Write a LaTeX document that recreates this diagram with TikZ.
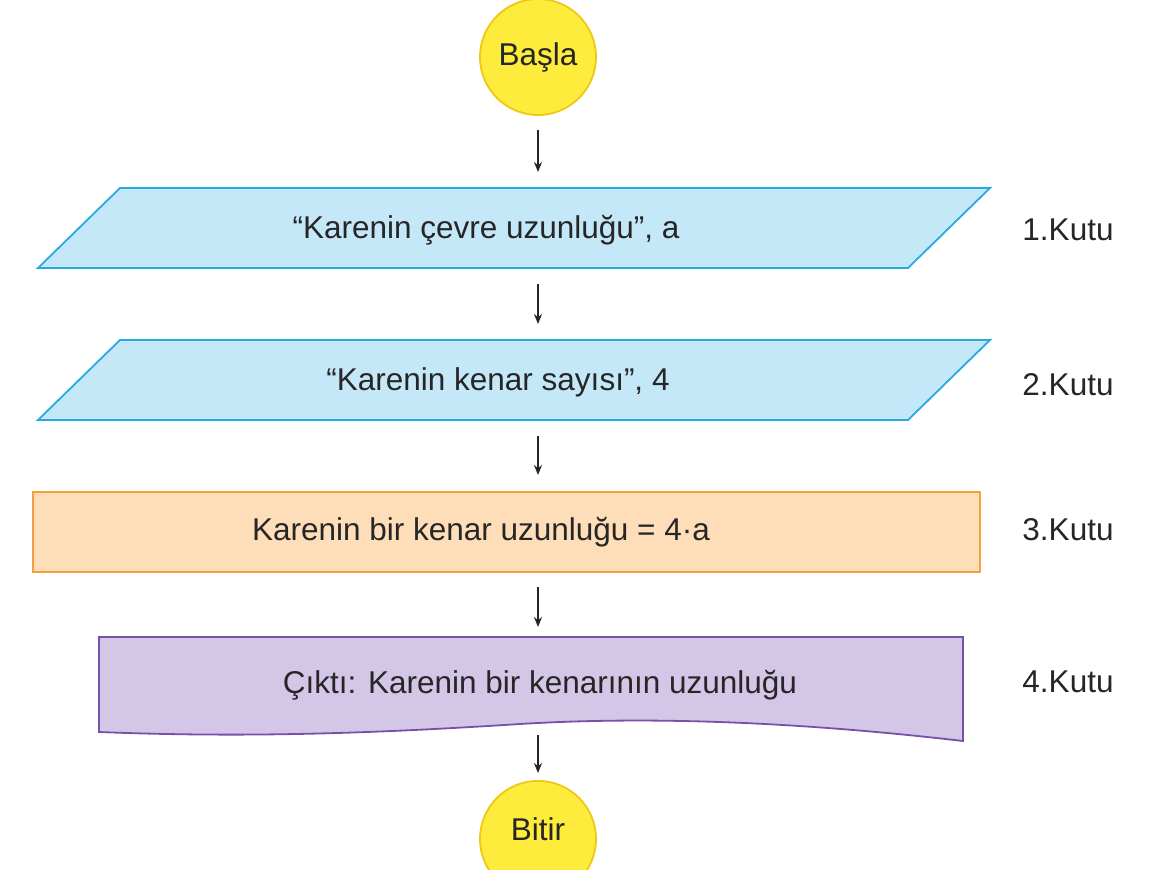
\documentclass[tikz,border=0pt]{standalone}
\usepackage{fontspec}
\setmainfont{Liberation Sans}
\usetikzlibrary{arrows.meta}
\definecolor{yfill}{RGB}{253,236,60}
\definecolor{yline}{RGB}{240,200,20}
\definecolor{bfill}{RGB}{196,232,248}
\definecolor{bline}{RGB}{40,170,225}
\definecolor{ofill}{RGB}{253,222,185}
\definecolor{oline}{RGB}{245,160,60}
\definecolor{pfill}{RGB}{212,198,230}
\definecolor{pline}{RGB}{120,80,170}
\tikzset{
  term/.style={circle,draw=yline,fill=yfill,line width=1.8pt,minimum size=116pt,inner sep=0pt},
  lbl/.style={font=\fontsize{31.5}{34}\selectfont,text=black!85},
  arr/.style={-{Stealth[length=10pt,width=8pt]},line width=1.4pt,black!85},
}
\begin{document}
\begin{tikzpicture}[x=1pt,y=-1pt]
\useasboundingbox (0,0) rectangle (1171,870);
\fill[white] (0,0) rectangle (1171,870);
\node[term,lbl] (start) at (538,57) {\raisebox{-3pt}{Başla}};
\node[term,lbl,anchor=north] (end) at (538,780) {\raisebox{-1pt}{\raisebox{20pt}{Bitir}}};
\filldraw[fill=bfill,draw=bline,line width=1.8pt] (38,268) -- (120,188) -- (990,188) -- (908,268) -- cycle;
\filldraw[fill=bfill,draw=bline,line width=1.8pt] (38,420) -- (120,340) -- (990,340) -- (908,420) -- cycle;
\filldraw[fill=ofill,draw=oline,line width=1.8pt] (33,492) rectangle (980,572);
\filldraw[fill=pfill,draw=pline,line width=1.8pt] (99,637) -- (963,637) -- (963,741)
  .. controls (800,722) and (650,716) .. (520,724) .. controls (380,733) and (250,738) .. (99,732) -- cycle;
\node[lbl] (b1) at (486,230) {“Karenin çevre uzunluğu”, a};
\node[lbl] (b2) at (498,382) {“Karenin kenar sayısı”, 4};
\node[lbl] (b3) at (481,532) {Karenin bir kenar uzunluğu = 4·a};
\node[lbl] (b4) at (540,685) {Çıktı: Karenin bir kenarının uzunluğu};
\node[lbl] (k1) at (1068,230) {1.Kutu};
\node[lbl] (k2) at (1068,385) {2.Kutu};
\node[lbl] (k3) at (1068,530) {3.Kutu};
\node[lbl] (k4) at (1068,682) {4.Kutu};
\coordinate (a1s) at (538,130); \coordinate (a1e) at (538,172);
\coordinate (a2s) at (538,284); \coordinate (a2e) at (538,324);
\coordinate (a3s) at (538,436); \coordinate (a3e) at (538,475);
\coordinate (a4s) at (538,587); \coordinate (a4e) at (538,627);
\coordinate (a5s) at (538,735); \coordinate (a5e) at (538,773);
\draw[arr] (a1s) -- (a1e);
\draw[arr] (a2s) -- (a2e);
\draw[arr] (a3s) -- (a3e);
\draw[arr] (a4s) -- (a4e);
\draw[arr] (a5s) -- (a5e);
\end{tikzpicture}
\end{document}
